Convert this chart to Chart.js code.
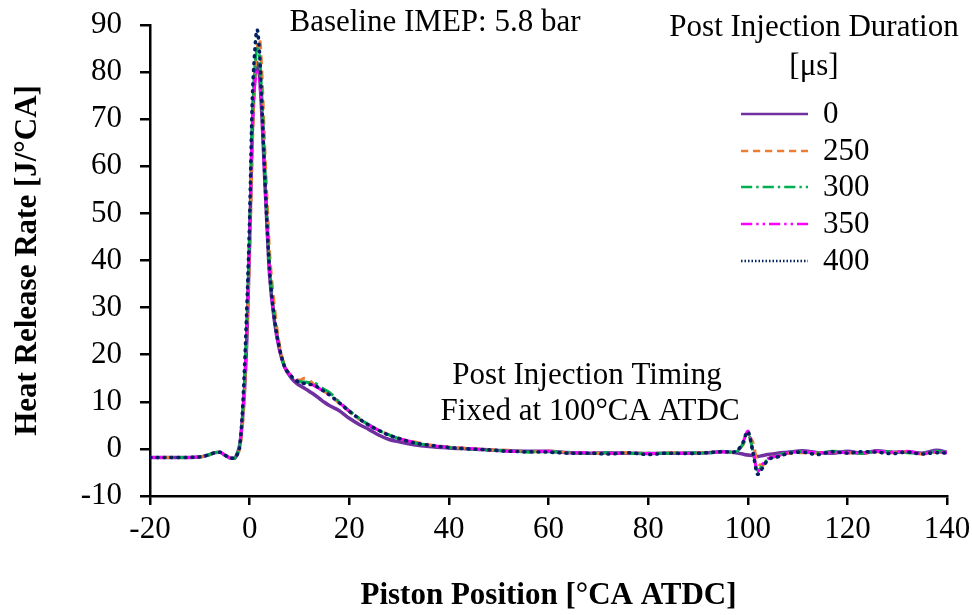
<!DOCTYPE html>
<html>
<head>
<meta charset="utf-8">
<script src="https://cdn.jsdelivr.net/npm/chart.js@4"></script>
<style>
  html, body { margin: 0; padding: 0; background: #fff; }
  #wrap { width: 972px; height: 615px; }
</style>
</head>
<body>
<div id="wrap"><canvas id="hrr"></canvas></div>
<script>
// crank angle [°CA ATDC]
const angle = [-20,-18,-16,-14,-12,-10,-8,-7,-6,-5,-4,-3,
  -2.5,-2,-1.5,-1,-0.5,0,0.5,1,1.5,2,2.5,3,3.5,4,
  5,6,7,8,9,10,11,12,13,14,15,16,
  18,20,22,24,26,28,30,33,36,
  40,44,48,52,56,60,64,68,72,76,80,84,88,92,95,97,
  98,99,100,101,102,103,104,106,108,
  111,114,117,120,123,126,129,132,135,138,140];

// heat release rate [J/°CA] for each post injection duration
const hrr0 = [-1.8,-1.8,-1.8,-1.8,-1.8,-1.7,-1.2,-0.8,-0.7,-1.3,-1.9,-2.0,
  -1.0,0.8,5.5,13,25,44,66,78,82,79,70,58,47,37,
  27,21,17.4,15.6,14.3,13.5,12.9,12.2,11.5,10.7,9.9,9.2,
  8.1,6.5,5.2,4.1,2.9,2.0,1.5,0.9,0.5,
  0.2,0.0,-0.2,-0.4,-0.5,-0.5,-0.8,-0.9,-0.8,-0.9,-1.0,-0.9,-0.9,-0.8,-0.6,-0.7,
  -0.9,-1.1,-1.3,-1.4,-1.6,-1.4,-1.2,-0.9,-0.7,
  -0.4,-0.8,-0.9,-0.5,-0.9,-0.4,-0.7,-0.6,-0.9,-0.3,-0.7];
const hrr250 = [-1.8,-1.8,-1.8,-1.8,-1.8,-1.7,-1.2,-0.8,-0.7,-1.3,-1.9,-2.0,
  -1.3,0.0,4,12,26,41,62,78,85,87,79,65,53,42,
  30,22,17.8,16.0,15.0,14.6,15.0,14.6,13.6,12.9,12.2,11.5,
  9.7,7.9,6.3,5.0,3.9,3.0,2.2,1.5,0.9,
  0.4,0.1,-0.2,-0.3,-0.6,-0.5,-0.8,-0.9,-0.9,-0.8,-1.0,-0.8,-0.9,-0.8,-0.6,-0.8,
  -0.3,0.8,2.6,1.5,-3.0,-3.5,-2.0,-1.6,-1.0,
  -0.8,-0.9,-0.6,-0.8,-1.0,-0.6,-0.8,-0.6,-1.1,-0.7,-0.8];
const hrr300 = [-1.8,-1.8,-1.8,-1.8,-1.8,-1.7,-1.2,-0.8,-0.7,-1.3,-1.9,-2.0,
  -1.0,0.6,6,15,29,46,69,80,85,83,74,61,49,39,
  28,21.5,17.6,15.9,14.9,14.3,14.2,14.1,14.0,13.3,12.6,12.0,
  10.0,8.1,6.5,5.1,3.9,3.0,2.2,1.3,0.8,
  0.3,0.0,-0.3,-0.4,-0.7,-0.6,-0.7,-0.9,-0.8,-1.0,-0.9,-0.9,-0.8,-0.9,-0.5,-0.8,
  -0.4,1.0,3.4,-0.3,-4.6,-3.4,-2.3,-1.4,-0.8,
  -0.6,-0.9,-0.5,-0.7,-1.0,-0.5,-0.6,-0.8,-0.9,-0.5,-0.8];
const hrr350 = [-1.8,-1.8,-1.8,-1.8,-1.8,-1.7,-1.2,-0.8,-0.7,-1.3,-1.9,-2.0,
  -1.1,0.5,6,14,28,45,67,77,80,78,71,59,48,38,
  27.5,21.2,17.5,15.9,14.8,14.1,13.9,13.8,13.4,12.8,12.1,11.4,
  9.8,8.0,6.4,5.0,3.9,2.9,2.2,1.4,0.8,
  0.3,0.1,-0.3,-0.5,-0.6,-0.5,-0.8,-0.8,-0.9,-0.9,-1.0,-0.9,-0.9,-0.8,-0.6,-0.7,
  -0.3,1.2,3.8,0.0,-4.8,-3.2,-2.1,-1.5,-0.9,
  -0.6,-0.8,-0.7,-0.8,-0.9,-0.5,-0.7,-0.5,-1.0,-0.6,-0.9];
const hrr400 = [-1.8,-1.8,-1.8,-1.8,-1.8,-1.7,-1.2,-0.8,-0.7,-1.3,-1.9,-2.0,
  -1.2,0.4,7,18,32,49,73,84,89,84,72,59,47.5,38,
  27.5,21.4,17.5,15.9,14.8,14.1,13.9,13.7,13.5,12.9,12.2,11.5,
  9.8,8.0,6.4,5.0,3.9,2.9,2.2,1.3,0.8,
  0.3,0.0,-0.2,-0.5,-0.6,-0.7,-0.9,-0.9,-1.1,-0.8,-1.2,-0.9,-1.0,-0.8,-0.6,-0.7,
  -0.2,1.3,3.7,-0.5,-5.4,-4.0,-2.4,-1.7,-1.0,
  -0.7,-1.2,-0.6,-0.9,-0.6,-0.7,-1.0,-0.7,-1.1,-0.8,-0.9];

const durations = ['0', '250', '300', '350', '400'];
const xTicks = [-20, 0, 20, 40, 60, 80, 100, 120, 140];
const yTicks = [-10, 0, 10, 20, 30, 40, 50, 60, 70, 80, 90];

const serif = "'Liberation Serif', 'Times New Roman', serif";

const styles = [
  { color: '#7030A0', dash: [], width: 3.5 },
  { color: '#ED7D31', dash: [9, 6], width: 3 },
  { color: '#00B050', dash: [14, 5, 3, 5], width: 3 },
  { color: '#FF00FF', dash: [14, 5, 3, 5, 3, 5], width: 3 },
  { color: '#002060', dash: [1, 6], width: 3.5, cap: 'round' }
];
const series = [hrr0, hrr250, hrr300, hrr350, hrr400];

const datasets = series.map((vals, i) => ({
  label: durations[i],
  data: angle.map((a, k) => ({ x: a, y: vals[k] })),
  borderColor: styles[i].color,
  borderWidth: styles[i].width,
  borderDash: styles[i].dash,
  borderCapStyle: styles[i].cap || 'butt',
  pointRadius: 0,
  cubicInterpolationMode: 'monotone',
  fill: false,
  order: 5 - i
}));

// legend and text notes drawn straight onto the canvas
const notes = {
  id: 'notes',
  afterDraw(chart) {
    const ctx = chart.ctx;
    ctx.save();
    ctx.fillStyle = '#000';
    ctx.font = '31px ' + serif;
    ctx.textAlign = 'center';
    ctx.textBaseline = 'middle';
    ctx.fillText('Baseline IMEP: 5.8 bar', 435, 23);
    ctx.fillText('Post Injection Timing', 587, 376);
    ctx.fillText('Fixed at 100°CA ATDC', 590, 412);
    ctx.fillText('Post Injection Duration', 814, 28);
    ctx.fillText('[μs]', 814, 67);

    const rows = [114, 151, 187, 224, 261];
    ctx.textAlign = 'left';
    rows.forEach((y, i) => {
      const s = styles[i];
      ctx.beginPath();
      ctx.strokeStyle = s.color;
      ctx.lineWidth = 2.5;
      ctx.setLineDash(i === 4 ? [1.5, 2] : s.dash.map(d => d * 0.8));
      ctx.lineCap = 'butt';
      ctx.moveTo(741, y);
      ctx.lineTo(808, y);
      ctx.stroke();
      ctx.setLineDash([]);
      ctx.fillText(durations[i], 823, y + 1);
    });
    ctx.restore();
  }
};

new Chart(document.getElementById('hrr'), {
  type: 'line',
  data: { datasets: datasets },
  plugins: [notes],
  options: {
    responsive: true,
    maintainAspectRatio: false,
    animation: false,
    layout: { padding: { top: 25, right: 25, left: 0, bottom: 0 } },
    plugins: {
      legend: { display: false },
      tooltip: { enabled: false }
    },
    scales: {
      x: {
        type: 'linear',
        min: -20,
        max: 140,
        afterBuildTicks: s => { s.ticks = xTicks.map(v => ({ value: v })); },
        afterFit: s => { s.height = 119; s.paddingLeft = 0; s.paddingRight = 0; },
        border: { color: '#000', width: 2.5 },
        grid: { drawOnChartArea: false, drawTicks: true, tickLength: 9, color: '#000', lineWidth: 2.5 },
        ticks: { color: '#000', font: { family: serif, size: 31 }, padding: 6, maxRotation: 0 },
        title: {
          display: true,
          text: 'Piston Position [°CA ATDC]',
          color: '#000',
          font: { family: serif, size: 31, weight: 'bold' },
          padding: { top: 0, bottom: 0 }
        }
      },
      y: {
        type: 'linear',
        min: -10,
        max: 90,
        afterBuildTicks: s => { s.ticks = yTicks.map(v => ({ value: v })); },
        afterFit: s => { s.width = 150; s.paddingTop = 0; s.paddingBottom = 0; },
        border: { color: '#000', width: 2.5 },
        grid: { drawOnChartArea: false, drawTicks: true, tickLength: 10, color: '#000', lineWidth: 2.5 },
        ticks: { color: '#000', font: { family: serif, size: 31 }, padding: 18 },
        title: {
          display: true,
          text: 'Heat Release Rate [J/°CA]',
          color: '#000',
          font: { family: serif, size: 31, weight: 'bold' },
          padding: { top: 9, bottom: 0 }
        }
      }
    }
  }
});
</script>
</body>
</html>
